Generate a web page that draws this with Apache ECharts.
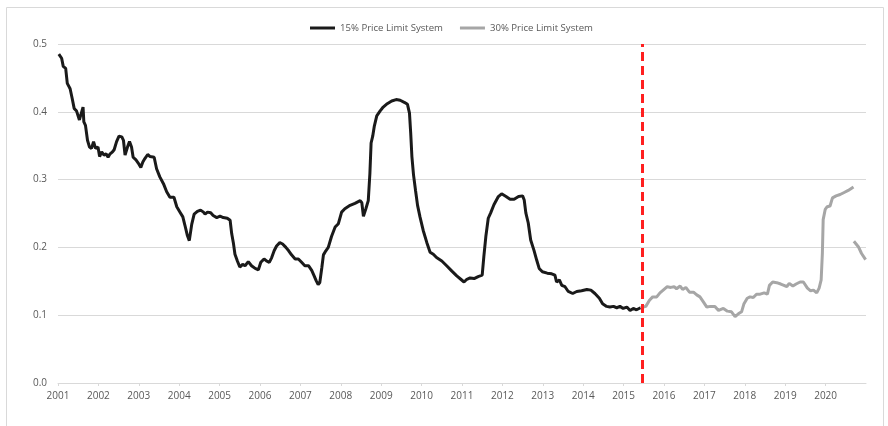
<!DOCTYPE html>
<html>
<head>
<meta charset="utf-8">
<script src="https://cdn.jsdelivr.net/npm/echarts@6/dist/echarts.min.js"></script>
<style>
  html, body { margin: 0; padding: 0; background: #fff; }
  #chart { width: 888px; height: 426px; }
</style>
</head>
<body>
<div id="chart"></div>
<script>
// x positions are decimal years
const years15 = [
  2001.02, 2001.09, 2001.13, 2001.19, 2001.23, 2001.30, 2001.35, 2001.40, 2001.46, 2001.53,
  2001.57, 2001.62, 2001.64, 2001.68, 2001.73, 2001.78, 2001.83, 2001.88, 2001.93, 2001.99,
  2002.03, 2002.08, 2002.14, 2002.19, 2002.24, 2002.29, 2002.35, 2002.39, 2002.45, 2002.51,
  2002.58, 2002.62, 2002.66, 2002.72, 2002.77, 2002.82, 2002.86, 2002.93, 2002.99, 2003.05,
  2003.10, 2003.15, 2003.22, 2003.28, 2003.38, 2003.44, 2003.52, 2003.61, 2003.69, 2003.77,
  2003.87, 2003.94, 2004.02, 2004.09, 2004.14, 2004.20, 2004.25, 2004.31, 2004.37, 2004.45,
  2004.53, 2004.60, 2004.64, 2004.70, 2004.78, 2004.84, 2004.93, 2005.01, 2005.09, 2005.19,
  2005.26, 2005.30, 2005.34, 2005.38, 2005.44, 2005.50, 2005.57, 2005.63, 2005.71, 2005.79,
  2005.88, 2005.96, 2006.02, 2006.10, 2006.16, 2006.23, 2006.29, 2006.35, 2006.41, 2006.49,
  2006.56, 2006.64, 2006.71, 2006.78, 2006.87, 2006.95, 2007.03, 2007.11, 2007.20, 2007.28,
  2007.34, 2007.39, 2007.44, 2007.48, 2007.53, 2007.57, 2007.63, 2007.69, 2007.77, 2007.86,
  2007.94, 2008.02, 2008.10, 2008.23, 2008.35, 2008.48, 2008.52, 2008.56, 2008.62, 2008.68,
  2008.72, 2008.75, 2008.79, 2008.83, 2008.89, 2008.97, 2009.05, 2009.15, 2009.26, 2009.37,
  2009.47, 2009.57, 2009.65, 2009.70, 2009.73, 2009.76, 2009.80, 2009.85, 2009.90, 2009.96,
  2010.04, 2010.13, 2010.21, 2010.29, 2010.37, 2010.50, 2010.62, 2010.75, 2010.87, 2010.97,
  2011.05, 2011.12, 2011.20, 2011.30, 2011.40, 2011.50, 2011.54, 2011.59, 2011.65, 2011.71,
  2011.79, 2011.90, 2011.98, 2012.09, 2012.19, 2012.29, 2012.40, 2012.50, 2012.54, 2012.58,
  2012.64, 2012.70, 2012.78, 2012.85, 2012.91, 2012.99, 2013.11, 2013.22, 2013.30, 2013.34,
  2013.41, 2013.47, 2013.55, 2013.63, 2013.74, 2013.84, 2013.96, 2014.09, 2014.19, 2014.29,
  2014.40, 2014.48, 2014.58, 2014.66, 2014.75, 2014.83, 2014.91, 2014.99, 2015.08, 2015.16,
  2015.24, 2015.32, 2015.42
];
const values15 = [
  0.485, 0.479, 0.467, 0.464, 0.442, 0.434, 0.420, 0.405, 0.401, 0.388,
  0.386, 0.407, 0.385, 0.380, 0.358, 0.348, 0.346, 0.356, 0.346, 0.348,
  0.334, 0.341, 0.336, 0.338, 0.333, 0.338, 0.341, 0.344, 0.356, 0.364,
  0.363, 0.358, 0.336, 0.348, 0.356, 0.348, 0.333, 0.329, 0.324, 0.318,
  0.326, 0.331, 0.337, 0.334, 0.333, 0.316, 0.304, 0.294, 0.282, 0.274,
  0.274, 0.260, 0.252, 0.245, 0.233, 0.218, 0.210, 0.234, 0.249, 0.253,
  0.255, 0.252, 0.249, 0.252, 0.251, 0.247, 0.244, 0.246, 0.244, 0.243,
  0.240, 0.220, 0.207, 0.190, 0.180, 0.171, 0.175, 0.173, 0.179, 0.173,
  0.169, 0.167, 0.178, 0.183, 0.180, 0.178, 0.185, 0.195, 0.202, 0.207,
  0.205, 0.200, 0.195, 0.189, 0.183, 0.183, 0.178, 0.173, 0.173, 0.166,
  0.158, 0.151, 0.145, 0.148, 0.170, 0.189, 0.195, 0.200, 0.216, 0.230,
  0.235, 0.252, 0.257, 0.262, 0.265, 0.269, 0.266, 0.246, 0.257, 0.269,
  0.309, 0.354, 0.364, 0.379, 0.394, 0.401, 0.407, 0.412, 0.416, 0.418,
  0.417, 0.414, 0.411, 0.398, 0.369, 0.334, 0.307, 0.284, 0.262, 0.245,
  0.225, 0.207, 0.193, 0.190, 0.185, 0.180, 0.173, 0.165, 0.158, 0.153,
  0.149, 0.153, 0.155, 0.154, 0.157, 0.159, 0.186, 0.216, 0.243, 0.251,
  0.263, 0.275, 0.279, 0.275, 0.271, 0.271, 0.275, 0.276, 0.270, 0.251,
  0.236, 0.211, 0.196, 0.181, 0.169, 0.164, 0.162, 0.161, 0.159, 0.149,
  0.152, 0.144, 0.142, 0.135, 0.132, 0.135, 0.136, 0.138, 0.137, 0.132,
  0.125, 0.117, 0.113, 0.112, 0.113, 0.111, 0.113, 0.110, 0.112, 0.107,
  0.110, 0.108, 0.111
];

// null marks the break near the end of 2020
const years30 = [
  2015.42, 2015.46, 2015.55, 2015.64, 2015.72, 2015.82, 2015.90, 2015.98, 2016.08, 2016.17,
  2016.25, 2016.31, 2016.40, 2016.46, 2016.54, 2016.63, 2016.73, 2016.81, 2016.89, 2016.97,
  2017.06, 2017.15, 2017.26, 2017.35, 2017.47, 2017.57, 2017.67, 2017.76, 2017.84, 2017.92,
  2017.98, 2018.06, 2018.13, 2018.21, 2018.29, 2018.38, 2018.48, 2018.56, 2018.61, 2018.69,
  2018.79, 2018.89, 2018.97, 2019.04, 2019.10, 2019.19, 2019.27, 2019.37, 2019.45, 2019.49,
  2019.55, 2019.63, 2019.70, 2019.78, 2019.84, 2019.89, 2019.92, 2019.94, 2019.99, 2020.04,
  2020.11, 2020.17, 2020.26, 2020.36, 2020.46, 2020.56, 2020.69, 2020.695, 2020.70, 2020.81,
  2020.89, 2020.99
];
const values30 = [
  0.111, 0.112, 0.113, 0.122, 0.127, 0.127, 0.133, 0.137, 0.142, 0.141,
  0.142, 0.139, 0.143, 0.138, 0.141, 0.134, 0.134, 0.130, 0.127, 0.120,
  0.112, 0.113, 0.113, 0.107, 0.110, 0.106, 0.105, 0.098, 0.102, 0.105,
  0.117, 0.125, 0.127, 0.126, 0.131, 0.131, 0.133, 0.131, 0.144, 0.149,
  0.148, 0.146, 0.144, 0.142, 0.147, 0.143, 0.146, 0.149, 0.149, 0.149,
  0.140, 0.136, 0.137, 0.133, 0.140, 0.152, 0.191, 0.241, 0.256, 0.260,
  0.261, 0.273, 0.276, 0.278, 0.281, 0.284, 0.289, null, 0.209, 0.201,
  0.191, 0.182
];

const yearTicks = [2001, 2002, 2003, 2004, 2005, 2006, 2007, 2008, 2009, 2010,
  2011, 2012, 2013, 2014, 2015, 2016, 2017, 2018, 2019, 2020];
const regimeChange = 2015.46;

const zip = (xs, ys) => xs.map((x, i) => [x, ys[i]]);

const chart = echarts.init(document.getElementById('chart'));
const font = '"Open Sans", sans-serif';
chart.setOption({
  animation: false,
  textStyle: { fontFamily: font },
  graphic: [{
    type: 'rect',
    shape: { x: 6.5, y: 7.5, width: 877, height: 430 },
    style: { fill: 'none', stroke: '#d9d9d9', lineWidth: 1 },
    silent: true
  }],
  legend: {
    top: 18,
    left: 305,
    itemWidth: 25,
    itemHeight: 3,
    itemGap: 17,
    icon: 'rect',
    textStyle: { color: '#595959', fontSize: 9.6, fontFamily: font },
    data: ['15% Price Limit System', '30% Price Limit System']
  },
  grid: { left: 58, right: 22, top: 44, bottom: 43, containLabel: false },
  xAxis: {
    type: 'value',
    min: 2001,
    max: 2021,
    axisLine: { show: true, lineStyle: { color: '#d9d9d9', width: 1 } },
    axisTick: { show: true, length: 3, customValues: yearTicks, lineStyle: { color: '#d9d9d9' } },
    axisLabel: {
      customValues: yearTicks,
      color: '#595959',
      fontSize: 10,
      margin: 8,
      formatter: v => String(v)
    },
    splitLine: { show: false }
  },
  yAxis: {
    type: 'value',
    min: 0,
    max: 0.5,
    interval: 0.1,
    axisLine: { show: false },
    axisTick: { show: false },
    axisLabel: { color: '#595959', fontSize: 10, margin: 11, formatter: v => v.toFixed(1) },
    splitLine: { lineStyle: { color: '#d9d9d9', width: 1 } }
  },
  series: [
    {
      name: '15% Price Limit System',
      type: 'line',
      data: zip(years15, values15),
      showSymbol: false,
      color: '#1a1a1a',
      lineStyle: { color: '#1a1a1a', width: 3 },
      markLine: {
        silent: true,
        symbol: 'none',
        label: { show: false },
        lineStyle: { color: '#ff1f1f', width: 3, type: [9, 5] },
        data: [[{ coord: [regimeChange, 0] }, { coord: [regimeChange, 0.5] }]]
      }
    },
    {
      name: '30% Price Limit System',
      type: 'line',
      data: zip(years30, values30),
      showSymbol: false,
      connectNulls: false,
      color: '#a6a6a6',
      lineStyle: { color: '#a6a6a6', width: 3 }
    }
  ]
});
</script>
</body>
</html>
